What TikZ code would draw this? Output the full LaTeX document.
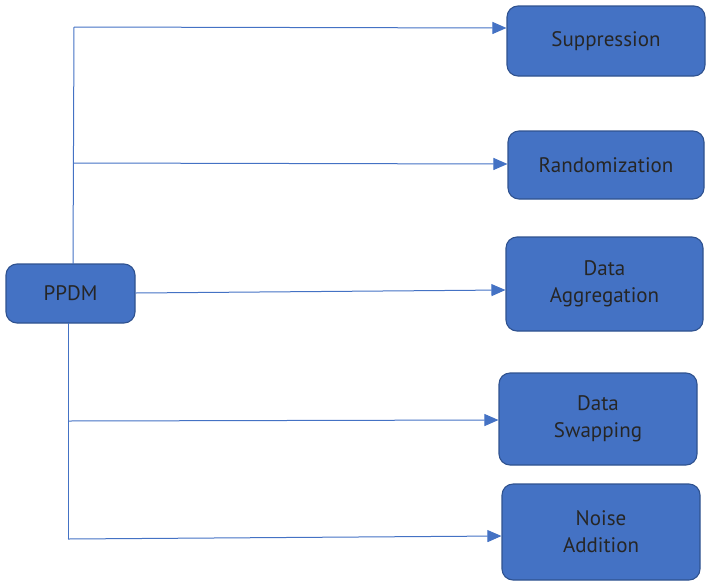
\documentclass[tikz,border=0pt]{standalone}
\usepackage{fontspec}
\setmainfont{PT Sans}
\usetikzlibrary{arrows.meta}
\definecolor{boxfill}{HTML}{4472C4}
\definecolor{boxline}{HTML}{2F528F}
\definecolor{wire}{HTML}{4472C4}
\definecolor{ink}{HTML}{262626}
\begin{document}
\begin{tikzpicture}[x=1pt,y=-1pt,
  box/.style={draw=boxline,line width=1.1pt,fill=boxfill,rounded corners=11pt,
    text=ink,font=\fontsize{21}{27}\selectfont,align=center,inner sep=0pt},
  wire/.style={draw=wire,line width=1pt},
  feed/.style={wire,-{Triangle[length=14pt,width=12pt]}}]
\useasboundingbox (0,0) rectangle (711,581);
% method boxes
\node[box,minimum width=129pt,minimum height=59pt] (ppdm) at (70.5,293.5) {PPDM};
\node[box,minimum width=198pt,minimum height=70pt] (supp) at (606,41) {Suppression};
\node[box,minimum width=196pt,minimum height=68pt] (rand) at (606,165) {Randomization};
\node[box,minimum width=197pt,minimum height=94pt] (agg) at (604.5,284) {Data\\Aggregation};
\node[box,minimum width=198pt,minimum height=92pt] (swap) at (598,419) {Data\\Swapping};
\node[box,minimum width=198pt,minimum height=96pt] (noise) at (601,532) {Noise\\Addition};
% junction points on the two trunks
\coordinate (ptop) at (73,264);
\coordinate (j1) at (74,27);
\coordinate (j2) at (74,163);
\coordinate (pbot) at (68,323);
\coordinate (j4) at (68,421);
\coordinate (j5) at (68,539);
% trunks
\draw[wire] (ptop) -- (j1);
\draw[wire] (pbot) -- (j5);
% branches
\draw[feed] (j1) -- (supp.west |- 0,28);
\draw[feed] (j2) -- (rand.west |- 0,164);
\draw[feed] (ppdm.east |- 0,293) -- (agg.west |- 0,290);
\draw[feed] (j4) -- (swap.west |- 0,420);
\draw[feed] (j5) -- (noise.west |- 0,536);
\end{tikzpicture}
\end{document}
